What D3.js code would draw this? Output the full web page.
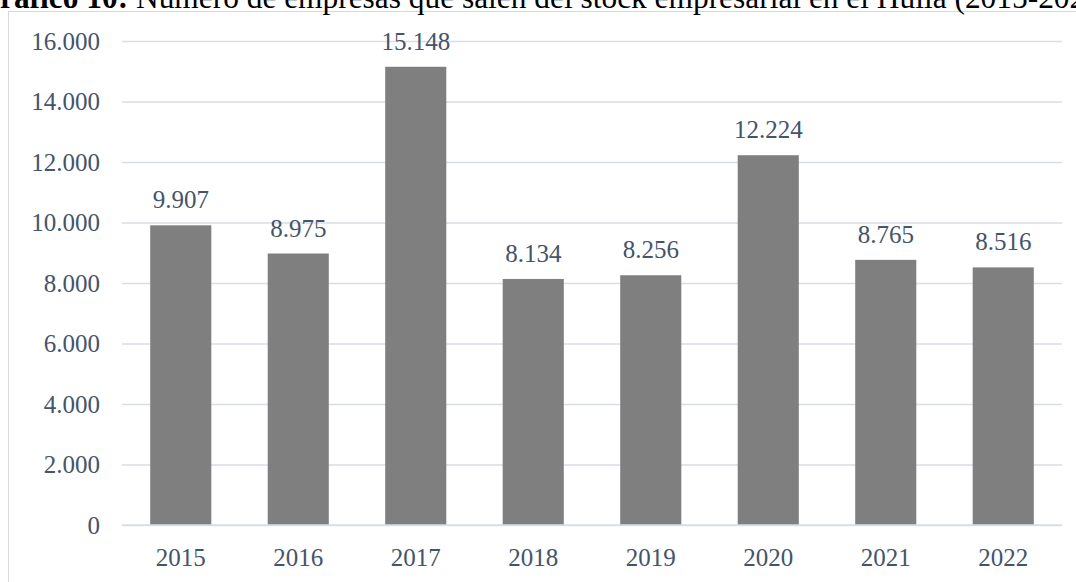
<!DOCTYPE html>
<html>
<head>
<meta charset="utf-8">
<script src="https://cdn.jsdelivr.net/npm/d3@7"></script>
<style>
	body { margin: 0; background: #fff; }
	svg { display: block; }
	text { font-family: 'Liberation Serif', 'Times New Roman', serif; }
</style>
</head>
<body>
<div id="graphic"></div>
<script>
// chart data
let years = ['2015', '2016', '2017', '2018', '2019', '2020', '2021', '2022'];
let values = [9907, 8975, 15148, 8134, 8256, 12224, 8765, 8516];
let yTicks = [0, 2000, 4000, 6000, 8000, 10000, 12000, 14000, 16000];
let titleBold = 'Gráfico 10:';
let titleText = ' Número de empresas que salen del stock empresarial en el Huila (2015-2022)';

let width = 1076, height = 582;
let margin = { top: 41, right: 14, bottom: 57, left: 122 };
let textColour = '#44546A';
let titleSize = 31.4;

let svg = d3.select('#graphic')
	.append('svg')
	.attr('width', width)
	.attr('height', height)
	.style('background-color', '#fff');

// outer frame of the chart area
svg.append('rect')
	.attr('x', 8.5)
	.attr('y', 11.5)
	.attr('width', width + 20)
	.attr('height', height + 20)
	.attr('fill', 'none')
	.attr('stroke', '#D9D9D9')
	.attr('stroke-width', 1);

// title, clipped at the left like the reference
let title = svg.append('text')
	.attr('y', 8)
	.attr('font-size', titleSize)
	.attr('fill', '#000');
title.append('tspan').attr('font-weight', 'bold').text(titleBold);
title.append('tspan').text(titleText);
let gWidth = svg.append('text').attr('font-size', titleSize).attr('font-weight', 'bold').text('G');
let shift = gWidth.node().getComputedTextLength();
gWidth.remove();
title.attr('x', -shift);

let chartWidth = width - margin.left - margin.right;
let chartHeight = height - margin.top - margin.bottom;

const x = d3.scaleBand()
	.domain(years)
	.range([0, chartWidth])
	.paddingInner(0.48)
	.paddingOuter(0.24);

const y = d3.scaleLinear()
	.domain([0, 16000])
	.range([chartHeight, 0]);

let fmt = d3.formatLocale({ decimal: ',', thousands: '.', grouping: [3], currency: ['', ''] }).format(',d');

let g = svg.append('g')
	.attr('transform', 'translate(' + margin.left + ',' + margin.top + ')');

// y axis with gridlines
g.append('g')
	.attr('class', 'y axis')
	.call(d3.axisLeft(y).tickValues(yTicks).tickSize(-chartWidth).tickPadding(22).tickFormat(fmt))
	.call(a => a.select('.domain').remove())
	.call(a => a.selectAll('line').attr('stroke', '#D9DEE6').attr('stroke-width', 1.3))
	.call(a => a.selectAll('text')
		.attr('fill', textColour)
		.attr('font-size', 25)
		.attr('dy', '0.33em'));

// bars
g.append('g')
	.selectAll('rect')
	.data(values)
	.join('rect')
	.attr('x', (d, i) => x(years[i]))
	.attr('y', d => y(d))
	.attr('width', x.bandwidth())
	.attr('height', d => chartHeight - y(d))
	.attr('fill', '#7F7F7F');

// zero line on top of bars
g.append('line')
	.attr('x1', 0)
	.attr('x2', chartWidth)
	.attr('y1', chartHeight)
	.attr('y2', chartHeight)
	.attr('stroke', '#D9DEE6')
	.attr('stroke-width', 1.5);

// data labels
g.append('g')
	.selectAll('text')
	.data(values)
	.join('text')
	.attr('x', (d, i) => x(years[i]) + x.bandwidth() / 2)
	.attr('y', d => y(d) - 17)
	.attr('text-anchor', 'middle')
	.attr('font-size', 25)
	.attr('fill', textColour)
	.text(d => fmt(d));

// x axis labels
g.append('g')
	.attr('class', 'x axis')
	.attr('transform', 'translate(0,' + chartHeight + ')')
	.call(d3.axisBottom(x).tickSize(0).tickPadding(0))
	.call(a => a.select('.domain').remove())
	.call(a => a.selectAll('text')
		.attr('fill', textColour)
		.attr('font-size', 25)
		.attr('dy', 41));
</script>
</body>
</html>
